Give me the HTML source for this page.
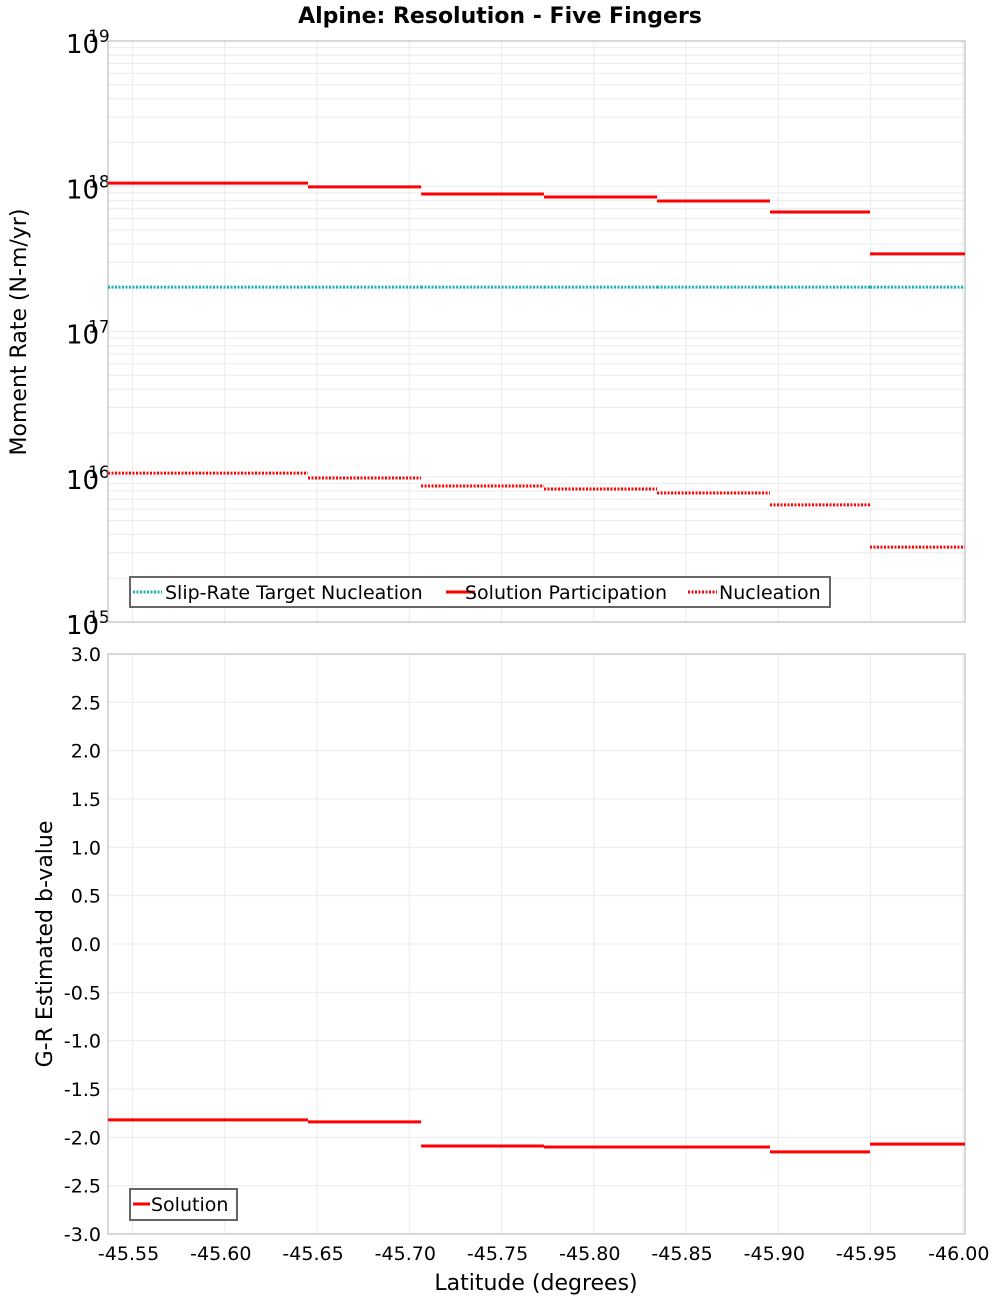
<!DOCTYPE html>
<html><head><meta charset="utf-8"><style>
body{margin:0;background:#fff;}
svg{display:block;font-family:"DejaVu Sans","Liberation Sans",sans-serif;}
</style></head><body>
<svg id="chart" width="1000" height="1300" xmlns="http://www.w3.org/2000/svg">
<text x="500" y="23" text-anchor="middle" font-size="22" font-weight="bold">Alpine: Resolution - Five Fingers</text>
<text transform="translate(26,332) rotate(-90)" text-anchor="middle" font-size="22">Moment Rate (N-m/yr)</text>
<text transform="translate(52,944) rotate(-90)" text-anchor="middle" font-size="22">G-R Estimated b-value</text>
<text x="536" y="1290" text-anchor="middle" font-size="22">Latitude (degrees)</text>
<g id="g"></g>
</svg>
<script>
const segEdges = [-45.5367, -45.6451, -45.7064, -45.773, -45.8343, -45.8955, -45.9497, -46.0012];
const participation = [1.05e18, 9.9e17, 8.85e17, 8.43e17, 7.91e17, 6.65e17, 3.42e17];
const nucleation = [1.06e16, 9.8e15, 8.63e15, 8.24e15, 7.73e15, 6.4e15, 3.28e15];
const targetNucleation = [2.02e17, 2.02e17, 2.02e17, 2.02e17, 2.02e17, 2.02e17, 2.02e17];
const bValues = [-1.82, -1.84, -2.09, -2.10, -2.10, -2.15, -2.07];
const xTicks = [-45.55, -45.60, -45.65, -45.70, -45.75, -45.80, -45.85, -45.90, -45.95, -46.00];
const xTickLabels = ["-45.55","-45.60","-45.65","-45.70","-45.75","-45.80","-45.85","-45.90","-45.95","-46.00"];
const bTicks = [3.0,2.5,2.0,1.5,1.0,0.5,0.0,-0.5,-1.0,-1.5,-2.0,-2.5,-3.0];
const decades = [19,18,17,16,15];

const NS="http://www.w3.org/2000/svg";
const g=document.getElementById('g');
const L=108,R=965,T1=41,B1=622,T2=654,B2=1234;
const x0=-45.5367,x1=-46.0012;
function X(v){return L+(v-x0)/(x1-x0)*(R-L);}
function Y1(v){return T1+(19-Math.log10(v))/4*(B1-T1);}
function Y2(v){return T2+(3-v)/6*(B2-T2);}
function el(tag,attrs,parent){const e=document.createElementNS(NS,tag);for(const k in attrs)e.setAttribute(k,attrs[k]);(parent||g).appendChild(e);return e;}

// plot backgrounds & grids
[[T1,B1],[T2,B2]].forEach(([t,b],i)=>{
  const bg=el('rect',{x:L,y:t,width:R-L,height:b-t,fill:'#fff'});
  
  
  xTicks.forEach(v=>{
    const ln=el('line',{x1:X(v),x2:X(v),y1:t,y2:b,stroke:'#ebebeb','stroke-width':1});
    
    
  });
});
for(let d=15;d<19;d++){for(let m=1;m<10;m++){const y=Y1(m*Math.pow(10,d));
  const ln=el('line',{x1:L,x2:R,y1:y,y2:y,stroke:'#ebebeb','stroke-width':1});
  
  }}
bTicks.forEach(v=>{const y=Y2(v);
  const ln=el('line',{x1:L,x2:R,y1:y,y2:y,stroke:'#ebebeb','stroke-width':1});
  
  
  const t=el('text',{x:101,y:y+7,'text-anchor':'end','font-size':19});
  t.textContent=v.toFixed(1);
  
  
});
decades.forEach(d=>{const y=Y1(Math.pow(10,d));
  const t=el('text',{x:66,y:y+12,'font-size':26});
  t.textContent='10';
  
  
  const s=el('text',{x:88,y:y+1,'font-size':17});
  s.textContent=String(d);
  
  
});
xTicks.forEach((v,i)=>{
  const t=el('text',{x:X(v)-4,y:1260,'text-anchor':'middle','font-size':19});
  t.textContent=xTickLabels[i];
  
  
});
// borders
[[T1,B1],[T2,B2]].forEach(([t,b])=>{
  const r=el('rect',{x:L,y:t,width:R-L,height:b-t,fill:'none',stroke:'#b0b0b0','stroke-width':1});
  
  
});
// series
function steps(vals,yf,color,dash,name){
  vals.forEach((v,i)=>{
    const a={x1:X(segEdges[i]),x2:X(segEdges[i+1]),y1:yf(v),y2:yf(v),stroke:color,'stroke-width':3};
    if(dash)a['stroke-dasharray']=dash;
    const ln=el('line',a);
    
    
  });
}
steps(targetNucleation,Y1,'#19b2b2','2,1.5','target-nucleation-step');
steps(participation,Y1,'#ff0000',null,'participation-step');
steps(nucleation,Y1,'#ff0000','2,1.5','nucleation-step');
steps(bValues,Y2,'#ff0000',null,'b-value-step');

// legends
const lg1=el('g',{});


el('rect',{x:130,y:577,width:700,height:30,fill:'#fff',stroke:'#666','stroke-width':2},lg1);
[[133,'#19b2b2','2,1.5','Slip-Rate Target Nucleation',165],[446,'#ff0000',null,'Solution Participation',465],[688,'#ff0000','2,1.5','Nucleation',719]].forEach(([lx,c,d,txt,tx])=>{
  const a={x1:lx,x2:lx+29,y1:592,y2:592,stroke:c,'stroke-width':3};if(d)a['stroke-dasharray']=d;
  const ln=el('line',a,lg1);
  
  
  const t=el('text',{x:tx,y:599,'font-size':19},lg1);t.textContent=txt;
  
  
});
const lg2=el('g',{});


el('rect',{x:130,y:1189,width:107,height:31,fill:'#fff',stroke:'#666','stroke-width':2},lg2);
const l2=el('line',{x1:133,x2:150,y1:1204,y2:1204,stroke:'#ff0000','stroke-width':3},lg2);


const t2=el('text',{x:151,y:1211,'font-size':19},lg2);t2.textContent='Solution';


</script>
</body></html>
